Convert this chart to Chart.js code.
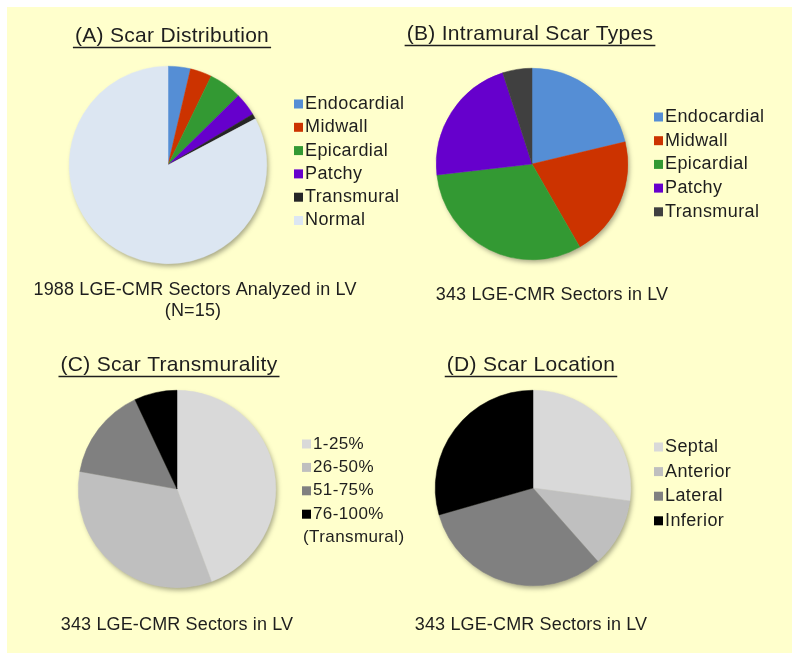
<!DOCTYPE html>
<html>
<head>
<meta charset="utf-8">
<script src="https://cdn.jsdelivr.net/npm/chart.js@4.4.1/dist/chart.umd.min.js"></script>
<style>
  body { margin: 0; background: #fff; }
  #wrap { position: relative; width: 800px; height: 663px; }
  #panel { position: absolute; left: 7px; top: 7px; width: 785px; height: 646px; background: #ffffcc; }
  canvas { position: absolute; }
</style>
</head>
<body>
<div id="wrap">
  <div id="panel"></div>
  <canvas id="chartA" width="430" height="331" style="left:0;top:0"></canvas>
  <canvas id="chartB" width="400" height="331" style="left:400px;top:0"></canvas>
  <canvas id="chartC" width="430" height="331" style="left:0;top:331px"></canvas>
  <canvas id="chartD" width="400" height="331" style="left:400px;top:331px"></canvas>
</div>
<script>
// (A) scar distribution over all 1988 sectors
const distLabels = ['Endocardial', 'Midwall', 'Epicardial', 'Patchy', 'Transmural', 'Normal'];
const distValues = [73, 70, 108, 75, 17, 1645];
const distColors = ['#558ed5', '#cc3300', '#339933', '#6600cc', '#262626', '#dce6f2'];

// (B) intramural scar types, 343 sectors
const typeLabels = ['Endocardial', 'Midwall', 'Epicardial', 'Patchy', 'Transmural'];
const typeValues = [73, 70, 108, 75, 17];
const typeColors = ['#558ed5', '#cc3300', '#339933', '#6600cc', '#404040'];

// (C) transmurality
const transLabels = ['1-25%', '26-50%', '51-75%', ['76-100%', '(Transmural)']];
const transValues = [152, 115, 52, 24];
const transColors = ['#d9d9d9', '#bfbfbf', '#808080', '#000000'];

// (D) location
const locLabels = ['Septal', 'Anterior', 'Lateral', 'Inferior'];
const locValues = [93, 39, 110, 101];
const locColors = ['#d9d9d9', '#bfbfbf', '#808080', '#000000'];

const FONT = '"Liberation Sans", Arial, sans-serif';
const TEXT = '#1e1e1e';

// soft drop shadow under the whole pie
const shadowPlugin = {
  id: 'pieShadow',
  beforeDatasetsDraw(chart) {
    const arc = chart.getDatasetMeta(0).data[0];
    if (!arc) return;
    const ctx = chart.ctx;
    ctx.save();
    ctx.shadowColor = 'rgba(0,0,0,0.35)';
    ctx.shadowBlur = 5;
    ctx.shadowOffsetX = 2;
    ctx.shadowOffsetY = 3;
    ctx.fillStyle = '#ffffcc';
    ctx.beginPath();
    ctx.arc(arc.x, arc.y, arc.outerRadius - 0.5, 0, Math.PI * 2);
    ctx.fill();
    ctx.restore();
  }
};

// title (underlined), legend at the right, caption below
const textPlugin = {
  id: 'panelText',
  afterDraw(chart, args, o) {
    const ctx = chart.ctx;
    ctx.save();
    ctx.fillStyle = TEXT;
    ctx.strokeStyle = TEXT;

    ctx.font = '21px ' + FONT;
    ctx.letterSpacing = '0.3px';
    ctx.textAlign = 'center';
    ctx.textBaseline = 'middle';
    ctx.fillText(o.title, o.titleX, o.titleY);
    const w = ctx.measureText(o.title).width + 4;
    ctx.lineWidth = 1.3;
    ctx.beginPath();
    ctx.moveTo(o.titleX - w / 2, o.titleY + 11.5);
    ctx.lineTo(o.titleX + w / 2, o.titleY + 11.5);
    ctx.stroke();

    ctx.font = '18px ' + FONT;
    ctx.letterSpacing = '0.15px';
    o.caption.forEach((line, i) => {
      ctx.fillText(line, o.capX[i], o.capY[i]);
    });

    const ds = chart.data.datasets[0];
    ctx.font = o.legendSize + 'px ' + FONT;
    ctx.letterSpacing = '0.4px';
    ctx.textAlign = 'left';
    let row = 0;
    chart.data.labels.forEach((lab, i) => {
      const y = o.legY + row * o.legStep;
      ctx.fillStyle = ds.backgroundColor[i];
      ctx.fillRect(o.legX, y - 4.5, 9, 9);
      ctx.fillStyle = TEXT;
      const lines = Array.isArray(lab) ? lab : [lab];
      lines.forEach((t, j) => {
        ctx.fillText(t, j === 0 ? o.legX + 11 : o.legX + 1, y + j * o.legStep);
      });
      row += lines.length;
    });
    ctx.restore();
  }
};

function makePie(id, labels, values, colors, padding, text) {
  return new Chart(document.getElementById(id), {
    type: 'pie',
    data: {
      labels: labels,
      datasets: [{
        data: values,
        backgroundColor: colors,
        borderColor: colors,
        borderWidth: 0.5
      }]
    },
    options: {
      responsive: false,
      animation: false,
      layout: { padding: padding },
      plugins: {
        legend: { display: false },
        tooltip: { enabled: false },
        panelText: text
      }
    },
    plugins: [shadowPlugin, textPlugin]
  });
}

makePie('chartA', distLabels, distValues, distColors,
  { left: 69, top: 66, right: 163, bottom: 67 },
  { title: '(A) Scar Distribution', titleX: 172, titleY: 36,
    caption: ['1988 LGE-CMR Sectors Analyzed in LV', '(N=15)'], capX: [195, 193], capY: [290, 311],
    legX: 294, legY: 104, legStep: 23.3, legendSize: 18 });

makePie('chartB', typeLabels, typeValues, typeColors,
  { left: 36, top: 68, right: 172, bottom: 71 },
  { title: '(B) Intramural Scar Types', titleX: 530 - 400, titleY: 34,
    caption: ['343 LGE-CMR Sectors in LV'], capX: [152], capY: [295],
    legX: 254, legY: 117, legStep: 23.7, legendSize: 18 });

makePie('chartC', transLabels, transValues, transColors,
  { left: 78, top: 59, right: 154, bottom: 74 },
  { title: '(C) Scar Transmurality', titleX: 169, titleY: 34,
    caption: ['343 LGE-CMR Sectors in LV'], capX: [177], capY: [294],
    legX: 302, legY: 444 - 331, legStep: 23.4, legendSize: 17 });

makePie('chartD', locLabels, locValues, locColors,
  { left: 35, top: 59, right: 169, bottom: 76 },
  { title: '(D) Scar Location', titleX: 131, titleY: 34,
    caption: ['343 LGE-CMR Sectors in LV'], capX: [131], capY: [294],
    legX: 254, legY: 116, legStep: 24.6, legendSize: 18 });
</script>
</body>
</html>
